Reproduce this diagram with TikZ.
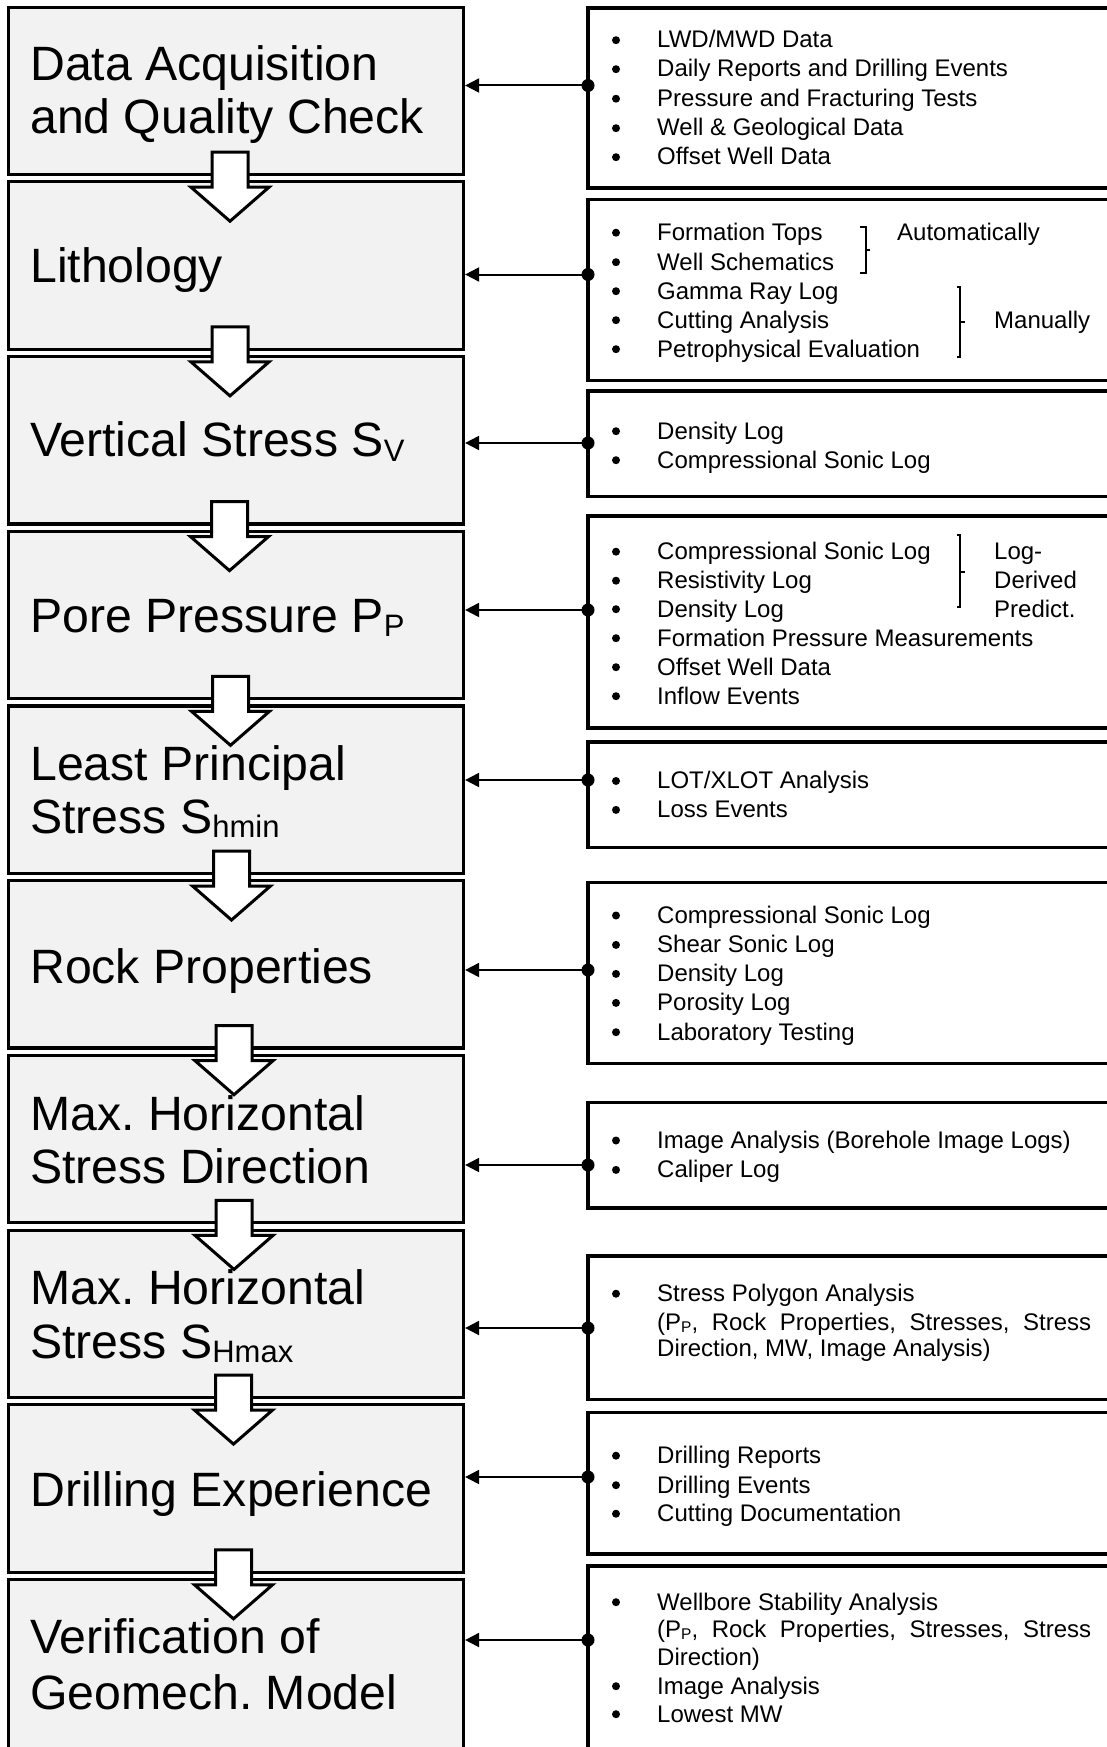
\documentclass[tikz,border=0pt]{standalone}
\usepackage{fontspec}
\setmainfont{Liberation Sans}
\usetikzlibrary{arrows.meta,calc}
\definecolor{boxgray}{RGB}{242,242,242}
\frenchspacing
\newcommand\lsub[1]{\raisebox{-4.5pt}{\fontsize{31}{31}\selectfont #1}}
\newcommand\rsub[1]{\raisebox{-2.3pt}{\fontsize{15.5}{15.5}\selectfont #1}}
\newcommand\mkrbox[3]{\node[rbox, minimum height={(#3-#2)*1pt}] (#1) at (858,{(#2+#3)/2}) {};}
\newcommand\mkconn[3]{\coordinate (#1) at (588,#2); \draw[conn] (#1) -- (#1 -| #3.east); \fill (#1) circle[radius=6.5pt];}
\newcommand\bitem[3]{\node[bul] (#1b) at (616,{#2-7.8}) {}; \node[rtxt] (#1) at (657,#2) {#3};}
\begin{document}
\frenchspacing
\begin{tikzpicture}[x=1pt,y=-1pt,
  lbox/.style={draw=black, fill=boxgray, line width=3.2pt, rectangle, inner sep=0pt, minimum width=455pt, minimum height=167.3pt},
  rbox/.style={draw=black, line width=3.2pt, rectangle, inner sep=0pt, minimum width=540pt},
  ltxt/.style={anchor=base west, inner sep=0pt, font=\fontsize{48.2}{57}\selectfont},
  rtxt/.style={anchor=base west, inner sep=0pt, font=\fontsize{24}{29}\selectfont},
  bul/.style={circle, fill=black, inner sep=0pt, minimum size=8pt},
  conn/.style={line width=2pt, -{Triangle[length=14pt,width=14pt]}},
  barrow/.style={draw=black, fill=white, line width=3pt, line join=miter},
  brk/.style={line width=2pt}]
\useasboundingbox (0,0) rectangle (1106,1747);

% left process boxes
\foreach \i in {1,...,9} {\node[lbox] (L\i) at (236,{7.2+174.7*(\i-1)+83.65}) {};}
\node[lbox, minimum height=200pt] (L10) at (236,1679.5) {};

% block arrows between boxes
\foreach \i/\j/\dx in {1/2/-6, 2/3/-6, 3/4/-6.5, 4/5/-5.5, 5/6/-4.5, 6/7/-2, 7/8/-2, 8/9/-2.5, 9/10/-2.5} {
  \coordinate (A\i) at ($(L\i.south)!0.5!(L\j.north)+(\dx,0)$);
  \draw[barrow, shift={(A\i)}] (-18,-26) -- (18,-26) -- (18,9) -- (39,9) -- (0,43) -- (-39,9) -- (-18,9) -- cycle;
}

% left texts
\node[ltxt] (T1a) at (30,80.5) {Data Acquisition};
\node[ltxt] (T1b) at (30,134) {and Quality Check};
\node[ltxt] (T2) at (30,282) {Lithology};
\node[ltxt] (T3) at (30,456.7) {Vertical Stress S\lsub{V}};
\node[ltxt] (T4) at (30,632.3) {Pore Pressure P\lsub{P}};
\node[ltxt] (T5a) at (30,780) {Least Principal};
\node[ltxt] (T5b) at (30,833.3) {Stress S\lsub{hmin}};
\node[ltxt] (T6) at (30,983.3) {Rock Properties};
\node[ltxt] (T7a) at (30,1130) {Max. Horizontal};
\node[ltxt] (T7b) at (30,1183.3) {Stress Direction};
\node[ltxt] (T8a) at (30,1304) {Max. Horizontal};
\node[ltxt] (T8b) at (30,1358) {Stress S\lsub{Hmax}};
\node[ltxt] (T9) at (30,1506.5) {Drilling Experience};
\node[ltxt] (T10a) at (30,1653) {Verification of};
\node[ltxt] (T10b) at (30,1709) {Geomech. Model};

% right data boxes
\mkrbox{R1}{8}{188}
\mkrbox{R2}{199.5}{380.5}
\mkrbox{R3}{391}{496.5}
\mkrbox{R4}{516}{728}
\mkrbox{R5}{742}{847.5}
\mkrbox{R6}{882.7}{1063.3}
\mkrbox{R7}{1102.7}{1208}
\mkrbox{R8}{1256}{1399.5}
\mkrbox{R9}{1412.5}{1554}
\mkrbox{R10}{1566}{1800}

% right texts
\bitem{r1a}{48}{LWD/MWD Data}
\bitem{r1b}{77}{Daily Reports and Drilling Events}
\bitem{r1c}{106.5}{Pressure and Fracturing Tests}
\bitem{r1d}{136}{Well \& Geological Data}
\bitem{r1e}{165}{Offset Well Data}

\bitem{r2a}{240.5}{Formation Tops}
\bitem{r2b}{270}{Well Schematics}
\bitem{r2c}{299}{Gamma Ray Log}
\bitem{r2d}{328}{Cutting Analysis}
\bitem{r2e}{357}{Petrophysical Evaluation}
\node[rtxt] (auto) at (897,240.5) {Automatically};
\node[rtxt] (manu) at (994,328) {Manually};
\draw[brk] (860,226.7) -- (865.7,226.7) -- (865.7,273.3) -- (860,273.3);
\draw[brk] (865.7,250) -- (870,250);
\draw[brk] (956.5,286.7) -- (960.4,286.7) -- (960.4,356.7) -- (956.5,356.7);
\draw[brk] (960.4,321.7) -- (965,321.7);

\bitem{r3a}{439}{Density Log}
\bitem{r3b}{468}{Compressional Sonic Log}

\bitem{r4a}{559.5}{Compressional Sonic Log}
\bitem{r4b}{588.5}{Resistivity Log}
\bitem{r4c}{617}{Density Log}
\bitem{r4d}{646}{Formation Pressure Measurements}
\bitem{r4e}{675}{Offset Well Data}
\bitem{r4f}{704}{Inflow Events}
\node[rtxt] (ld1) at (994,559.5) {Log-};
\node[rtxt] (ld2) at (994,588.5) {Derived};
\node[rtxt] (ld3) at (994,617) {Predict.};
\draw[brk] (956.5,535) -- (960.4,535) -- (960.4,607.3) -- (956.5,607.3);
\draw[brk] (960.4,571.7) -- (965,571.7);

\bitem{r5a}{788.8}{LOT/XLOT Analysis}
\bitem{r5b}{817.7}{Loss Events}

\bitem{r6a}{923.3}{Compressional Sonic Log}
\bitem{r6b}{952.7}{Shear Sonic Log}
\bitem{r6c}{981.7}{Density Log}
\bitem{r6d}{1010.7}{Porosity Log}
\bitem{r6e}{1040}{Laboratory Testing}

\bitem{r7a}{1148.3}{Image Analysis (Borehole Image Logs)}
\bitem{r7b}{1177.7}{Caliper Log}

\bitem{r8a}{1301.5}{Stress Polygon Analysis}
\node[rtxt] (r8b) at (657,1330) {\makebox[434pt][s]{(P\rsub{P}, Rock Properties, Stresses, Stress}};
\node[rtxt] (r8c) at (657,1356.5) {Direction, MW, Image Analysis)};

\bitem{r9a}{1463.5}{Drilling Reports}
\bitem{r9b}{1493}{Drilling Events}
\bitem{r9c}{1521.5}{Cutting Documentation}

\bitem{r10a}{1610}{Wellbore Stability Analysis}
\node[rtxt] (r10b) at (657,1637) {\makebox[434pt][s]{(P\rsub{P}, Rock Properties, Stresses, Stress}};
\node[rtxt] (r10c) at (657,1665) {Direction)};
\bitem{r10d}{1694}{Image Analysis}
\bitem{r10e}{1722}{Lowest MW}

% connectors
\mkconn{c1}{85.5}{L1}
\mkconn{c2}{274.5}{L2}
\mkconn{c3}{443}{L3}
\mkconn{c4}{610}{L4}
\mkconn{c5}{780}{L5}
\mkconn{c6}{970}{L6}
\mkconn{c7}{1165}{L7}
\mkconn{c8}{1328}{L8}
\mkconn{c9}{1477}{L9}
\mkconn{c10}{1640}{L10}
\end{tikzpicture}
\end{document}
